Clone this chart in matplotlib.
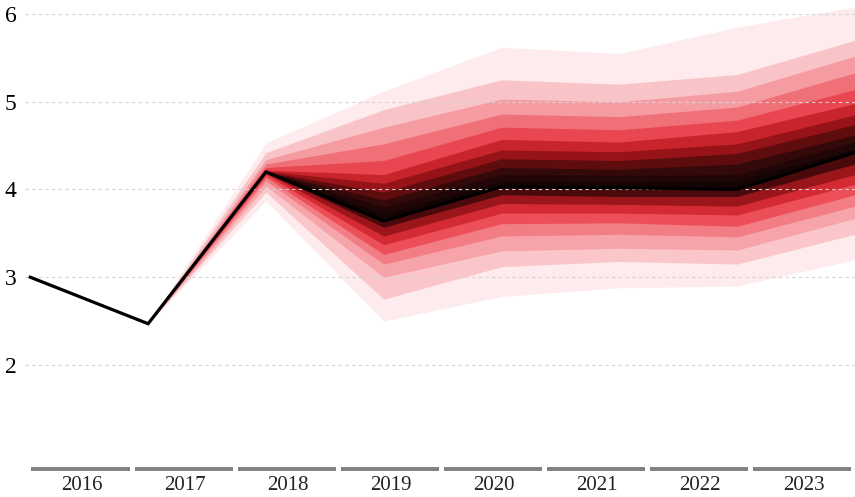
import matplotlib
matplotlib.use("Agg")
import matplotlib.pyplot as plt

# Historical + central path
years = [2016, 2017, 2018, 2019, 2020, 2021, 2022, 2023]
central = [3.0, 2.47, 4.2, 3.64, 4.03, 4.02, 4.0, 4.42]

# Fan starts at 2017 (zero width), values below are for 2018..2023
fan_start = 2.47
upper_bands = [  # inner -> outer
    [4.20, 3.72, 4.09, 4.08, 4.10, 4.46],
    [4.20, 3.80, 4.17, 4.16, 4.17, 4.54],
    [4.20, 3.88, 4.25, 4.23, 4.29, 4.62],
    [4.20, 3.97, 4.35, 4.33, 4.41, 4.74],
    [4.21, 4.07, 4.45, 4.43, 4.52, 4.85],
    [4.22, 4.17, 4.57, 4.54, 4.66, 4.98],
    [4.25, 4.33, 4.71, 4.68, 4.79, 5.14],
    [4.29, 4.52, 4.86, 4.83, 4.94, 5.33],
    [4.34, 4.71, 5.03, 5.00, 5.12, 5.52],
    [4.42, 4.91, 5.25, 5.20, 5.31, 5.70],
    [4.53, 5.12, 5.62, 5.55, 5.85, 6.08],
]
lower_bands = [  # inner -> outer
    [4.20, 3.57, 3.94, 3.92, 3.92, 4.29],
    [4.19, 3.47, 3.84, 3.83, 3.81, 4.17],
    [4.17, 3.37, 3.73, 3.73, 3.71, 4.06],
    [4.14, 3.26, 3.61, 3.62, 3.58, 3.94],
    [4.10, 3.15, 3.47, 3.49, 3.46, 3.81],
    [4.04, 3.00, 3.30, 3.33, 3.31, 3.67],
    [3.97, 2.75, 3.12, 3.18, 3.15, 3.49],
    [3.87, 2.50, 2.78, 2.88, 2.90, 3.20],
]
upper_colors = ['#140404', '#200606', '#340909', '#5e0c0e', '#961418', '#c8242c',
                '#e84650', '#f07078', '#f59ca2', '#f9c4c8', '#fdebed']
lower_colors = ['#4a0a0c', '#9a161b', '#d42a33', '#ec4f57', '#f27d84', '#f6a4a9',
                '#fac6ca', '#fdebed']

fig = plt.figure(figsize=(8.55, 4.97), dpi=100)
ax = fig.add_axes([25 / 855, 1 - 455 / 497, 830 / 855, 447 / 497])

xi = list(range(len(years)))
fan_x = xi[1:]
mid = central[1:]

for vals, col in reversed(list(zip(upper_bands, upper_colors))):
    ax.fill_between(fan_x, mid, [fan_start] + vals, color=col, lw=0, zorder=1)
for vals, col in reversed(list(zip(lower_bands, lower_colors))):
    ax.fill_between(fan_x, mid, [fan_start] + vals, color=col, lw=0, zorder=1)

ax.plot(xi, central, color='black', lw=2.3, zorder=4, solid_joinstyle='miter')

ax.set_xlim(-0.045, 7.0)
ax.set_ylim(0.974, 6.068)
ax.set_yticks([2, 3, 4, 5, 6])
ax.set_yticklabels(['2', '3', '4', '5', '6'], fontsize=17, family='Liberation Serif')
ax.tick_params(axis='y', length=0, pad=6)
ax.set_xticks([])
for s in ax.spines.values():
    s.set_visible(False)
ax.yaxis.grid(True, color='#d4d4d4', lw=0.8, ls=(0, (3, 3)), zorder=2)
ax.set_axisbelow(False)

# year bins under the chart
trans = ax.get_xaxis_transform()
bw = 7 / len(years)
for i, yr in enumerate(years):
    ax.plot([i * bw + 0.01, (i + 1) * bw - 0.03], [-0.032, -0.032], color='#808080',
            lw=2.8, transform=trans, clip_on=False, solid_capstyle='butt')
    ax.text((i + 0.5) * bw, -0.068, str(yr), transform=trans, ha='center', va='center',
            fontsize=15, family='Liberation Serif', color='#222222')

plt.savefig('out.png', dpi=100)
